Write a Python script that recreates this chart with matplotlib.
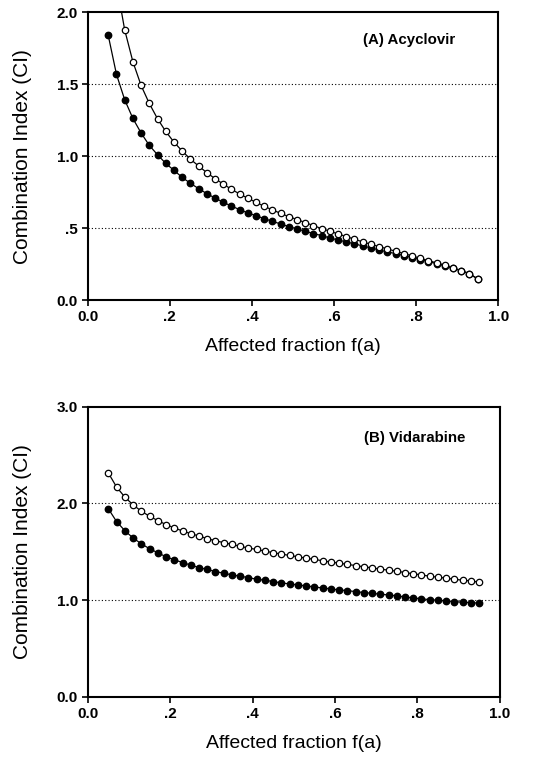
import numpy as np
import matplotlib
matplotlib.use('Agg')
import matplotlib.pyplot as plt

plt.rcParams['font.family'] = ['Liberation Sans', 'DejaVu Sans']

# affected fraction f(a): 0.05 .. 0.95 every 0.02
fa = [0.05, 0.07, 0.09, 0.11, 0.13, 0.15, 0.17, 0.19, 0.21, 0.23,
      0.25, 0.27, 0.29, 0.31, 0.33, 0.35, 0.37, 0.39, 0.41, 0.43,
      0.45, 0.47, 0.49, 0.51, 0.53, 0.55, 0.57, 0.59, 0.61, 0.63,
      0.65, 0.67, 0.69, 0.71, 0.73, 0.75, 0.77, 0.79, 0.81, 0.83,
      0.85, 0.87, 0.89, 0.91, 0.93, 0.95]

# (A) Acyclovir
acy_filled = [1.838, 1.568, 1.392, 1.262, 1.161, 1.075, 1.010, 0.950, 0.902, 0.853,
              0.812, 0.775, 0.740, 0.710, 0.680, 0.654, 0.629, 0.606, 0.587, 0.566,
              0.548, 0.529, 0.511, 0.495, 0.479, 0.462, 0.449, 0.432, 0.418, 0.405,
              0.391, 0.377, 0.363, 0.349, 0.335, 0.324, 0.310, 0.296, 0.282, 0.268,
              0.254, 0.238, 0.222, 0.203, 0.183, 0.148]
acy_open = [2.62, 2.20, 1.877, 1.656, 1.491, 1.366, 1.260, 1.172, 1.098, 1.036,
            0.980, 0.932, 0.886, 0.844, 0.807, 0.770, 0.738, 0.708, 0.680, 0.652,
            0.627, 0.603, 0.580, 0.560, 0.539, 0.518, 0.497, 0.479, 0.460, 0.442,
            0.423, 0.405, 0.388, 0.372, 0.356, 0.340, 0.324, 0.308, 0.291, 0.275,
            0.259, 0.243, 0.224, 0.206, 0.185, 0.148]

# (B) Vidarabine
vid_filled = [1.944, 1.812, 1.718, 1.642, 1.583, 1.531, 1.490, 1.448, 1.417, 1.389,
              1.362, 1.337, 1.317, 1.296, 1.278, 1.261, 1.247, 1.233, 1.216, 1.206,
              1.192, 1.178, 1.168, 1.157, 1.147, 1.136, 1.126, 1.116, 1.105, 1.099,
              1.088, 1.078, 1.071, 1.061, 1.054, 1.044, 1.033, 1.023, 1.013, 1.006,
              0.998, 0.992, 0.985, 0.978, 0.975, 0.968]
vid_open = [2.314, 2.169, 2.065, 1.985, 1.919, 1.867, 1.822, 1.781, 1.746, 1.715,
            1.687, 1.663, 1.635, 1.614, 1.594, 1.576, 1.556, 1.538, 1.524, 1.507,
            1.490, 1.476, 1.462, 1.448, 1.434, 1.421, 1.407, 1.393, 1.383, 1.369,
            1.358, 1.344, 1.334, 1.320, 1.310, 1.299, 1.285, 1.272, 1.261, 1.247,
            1.237, 1.227, 1.216, 1.206, 1.199, 1.185]

x_ticks = [0.0, 0.2, 0.4, 0.6, 0.8, 1.0]
x_ticklabels = ['0.0', '.2', '.4', '.6', '.8', '1.0']

fig = plt.figure(figsize=(5.45, 7.6), dpi=100)
ax_a = fig.add_axes([0.161, 0.605, 0.753, 0.379])
ax_b = fig.add_axes([0.161, 0.083, 0.756, 0.382])


def draw_panel(ax, filled, opened, ymax, yticks, ylabels, grid_y, title, title_y):
    # filled first, open circles on top where the two curves meet
    ax.plot(fa, filled, color='black', lw=0.9, marker='o', ms=4.6,
            mfc='black', mec='black', clip_on=True, zorder=3)
    ax.plot(fa, opened, color='black', lw=0.9, marker='o', ms=4.6,
            mfc='white', mec='black', mew=0.9, clip_on=True, zorder=4)
    for g in grid_y:
        ax.axhline(g, color='black', lw=0.8, ls=(0, (1, 2)), zorder=1)
    ax.set_xlim(0, 1.0)
    ax.set_ylim(0, ymax)
    ax.set_xticks(x_ticks)
    ax.set_xticklabels(x_ticklabels)
    ax.set_yticks(yticks)
    ax.set_yticklabels(ylabels)
    ax.tick_params(direction='out', length=4, width=1.2, labelsize=11, pad=3)
    for lab in ax.get_xticklabels() + ax.get_yticklabels():
        lab.set_fontweight('bold')
    for sp in ax.spines.values():
        sp.set_linewidth(1.5)
    ax.set_xlabel('Affected fraction f(a)', fontsize=14)
    ax.set_ylabel('Combination Index (CI)', fontsize=15)
    ax.xaxis.set_label_coords(0.5, -0.13)
    ax.yaxis.set_label_coords(-0.135, 0.5)
    ax.text(0.67, title_y, title, fontsize=10.8, fontweight='bold',
            ha='left', va='center')


draw_panel(ax_a, acy_filled, acy_open, 2.0, [0.0, 0.5, 1.0, 1.5, 2.0],
           ['0.0', '.5', '1.0', '1.5', '2.0'], [0.5, 1.0, 1.5],
           '(A) Acyclovir', 1.81)
draw_panel(ax_b, vid_filled, vid_open, 3.0, [0.0, 1.0, 2.0, 3.0],
           ['0.0', '1.0', '2.0', '3.0'], [1.0, 2.0],
           '(B) Vidarabine', 2.68)

fig.savefig('out.png', dpi=100, facecolor='white')
plt.close(fig)
